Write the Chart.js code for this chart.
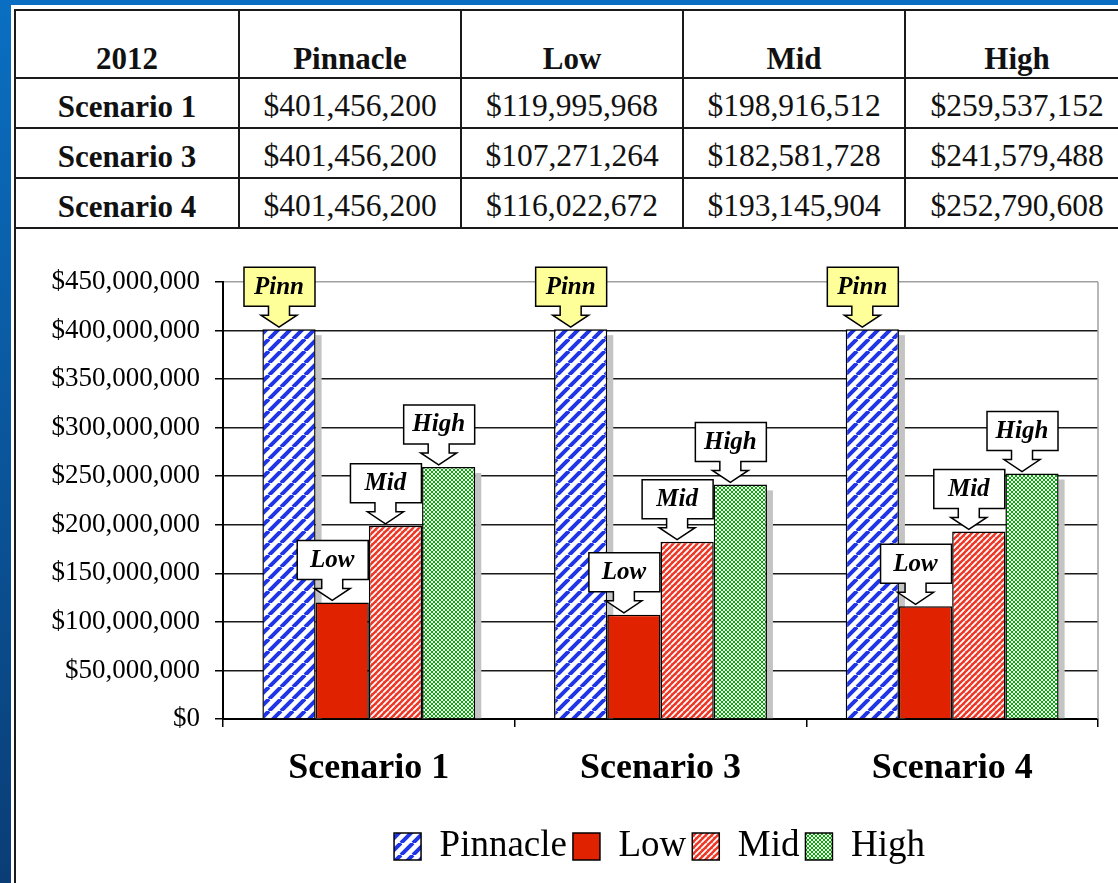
<!DOCTYPE html>
<html>
<head>
<meta charset="utf-8">
<script src="https://cdn.jsdelivr.net/npm/chart.js@4.4.0/dist/chart.umd.min.js"></script>
<style>
  body { margin: 0; width: 1118px; height: 883px; overflow: hidden; position: relative;
         background: linear-gradient(#0a6fc2, #0a3d76); font-family: 'Liberation Serif', 'Times New Roman', serif; }
  #panel { position: absolute; left: 11px; top: 5px; right: 0; bottom: 0; background: #fff; }
  #tbl { position: absolute; left: 14px; top: 9px; border-collapse: collapse; table-layout: fixed; width: 1114px; }
  #tbl td { border: 2px solid #1a1a1a; text-align: center; font-size: 31.5px; color: #111; padding: 0; line-height: 1; }
  #tbl tr.head td { height: 63px; vertical-align: bottom; padding-bottom: 3px; font-weight: bold; font-size: 31px; }
  #tbl tr.row td { height: 42px; padding-top: 6px; }
  #tbl tr.row td:first-child { font-weight: bold; font-size: 31px; }
  #box { position: absolute; left: 14px; top: 229px; width: 1200px; height: 700px; border-left: 2px solid #1a1a1a; }
  #wrap { position: absolute; left: 17px; top: 231px; width: 1101px; height: 652px; }
</style>
</head>
<body>
<div id="panel"></div>
<table id="tbl">
  <colgroup><col style="width:224px"><col style="width:222px"><col style="width:222px"><col style="width:222px"><col style="width:224px"></colgroup>
  <tbody id="tbody"></tbody>
</table>
<div id="box"></div>
<div id="wrap"><canvas id="chart"></canvas></div>
<script>
const year = '2012';
const categories = ['Scenario 1', 'Scenario 3', 'Scenario 4'];
const seriesNames = ['Pinnacle', 'Low', 'Mid', 'High'];
const calloutText = ['Pinn', 'Low', 'Mid', 'High'];
const pinnacle = [401456200, 401456200, 401456200];
const low = [119995968, 107271264, 116022672];
const mid = [198916512, 182581728, 193145904];
const high = [259537152, 241579488, 252790608];
const yMax = 450000000;
const yStep = 50000000;

const money = v => '$' + v.toLocaleString('en-US');
const series = [pinnacle, low, mid, high];

// table above the chart
const tbody = document.getElementById('tbody');
let html = '<tr class="head"><td>' + year + '</td>' + seriesNames.map(s => '<td>' + s + '</td>').join('') + '</tr>';
categories.forEach((c, i) => {
  html += '<tr class="row"><td>' + c + '</td>' + series.map(s => '<td>' + money(s[i]) + '</td>').join('') + '</tr>';
});
tbody.innerHTML = html;

const canvas = document.getElementById('chart');
const ctx = canvas.getContext('2d');

function stripes(bg, fg, size, width) {
  const c = document.createElement('canvas');
  c.width = c.height = size;
  const g = c.getContext('2d');
  g.fillStyle = bg; g.fillRect(0, 0, size, size);
  g.strokeStyle = fg; g.lineWidth = width;
  g.beginPath();
  for (const o of [-size, 0, size]) { g.moveTo(o, size); g.lineTo(o + size, 0); }
  g.stroke();
  return ctx.createPattern(c, 'repeat');
}
function checker(a, b, cell) {
  const c = document.createElement('canvas');
  c.width = c.height = cell * 2;
  const g = c.getContext('2d');
  g.fillStyle = a; g.fillRect(0, 0, cell * 2, cell * 2);
  g.fillStyle = b; g.fillRect(0, 0, cell, cell); g.fillRect(cell, cell, cell, cell);
  return ctx.createPattern(c, 'repeat');
}

const fills = [
  stripes('#ffffff', '#1f35e6', 12, 4),
  '#e02200',
  stripes('#ef3524', '#ffffff', 6, 1.8),
  checker('#00b000', '#ffffff', 2)
];

const shadows = {
  id: 'shadows',
  beforeDatasetsDraw(chart) {
    const c = chart.ctx;
    c.save();
    c.fillStyle = '#c4c4c4';
    chart.data.datasets.forEach((d, i) => {
      chart.getDatasetMeta(i).data.forEach(el => {
        const p = el.getProps(['x', 'y', 'base', 'width'], true);
        c.fillRect(p.x + p.width / 2, p.y + 6, 6, p.base - p.y - 6);
      });
    });
    c.restore();
  }
};

const callouts = {
  id: 'callouts',
  afterDatasetsDraw(chart) {
    const c = chart.ctx;
    c.save();
    c.font = 'italic bold 25px "Liberation Serif"';
    c.textAlign = 'center';
    c.textBaseline = 'middle';
    c.lineWidth = 1.5;
    c.strokeStyle = '#000';
    chart.data.datasets.forEach((d, i) => {
      chart.getDatasetMeta(i).data.forEach(el => {
        const p = el.getProps(['x', 'y'], true);
        const tx = p.x - 10, ty = p.y - 2;
        c.beginPath();
        c.moveTo(tx, ty);
        c.lineTo(tx + 18, ty - 12);
        c.lineTo(tx + 10.5, ty - 12);
        c.lineTo(tx + 10.5, ty - 21);
        c.lineTo(tx + 36, ty - 21);
        c.lineTo(tx + 36, ty - 60);
        c.lineTo(tx - 35, ty - 60);
        c.lineTo(tx - 35, ty - 21);
        c.lineTo(tx - 10.5, ty - 21);
        c.lineTo(tx - 10.5, ty - 12);
        c.lineTo(tx - 18, ty - 12);
        c.closePath();
        c.fillStyle = i === 0 ? '#ffff99' : '#ffffff';
        c.fill();
        c.stroke();
        c.fillStyle = '#000';
        c.fillText(calloutText[i], tx, ty - 40);
      });
    });
    c.restore();
  }
};

const frame = {
  id: 'frame',
  beforeDatasetsDraw(chart) {
    const a = chart.chartArea, c = chart.ctx;
    c.save();
    c.strokeStyle = '#a0a0a0';
    c.lineWidth = 1.5;
    c.beginPath();
    c.moveTo(a.right, a.top);
    c.lineTo(a.right, a.bottom);
    c.stroke();
    c.restore();
  }
};

// the legend in the original sits right of centre
const legendShift = {
  id: 'legendShift',
  afterLayout(chart) {
    chart.legend.left += 102;
    chart.legend.right += 102;
  }
};

new Chart(canvas, {
  type: 'bar',
  data: {
    labels: categories,
    datasets: series.map((s, i) => ({
      label: seriesNames[i],
      data: s,
      backgroundColor: fills[i],
      borderColor: '#000',
      borderWidth: 1.5,
      categoryPercentage: 0.73,
      barPercentage: 1
    }))
  },
  options: {
    responsive: true,
    maintainAspectRatio: false,
    animation: false,
    layout: { padding: { top: 51, right: 20, left: 0, bottom: 8 } },
    plugins: {
      tooltip: { enabled: false },
      legend: {
        position: 'bottom',
        labels: {
          color: '#000',
          font: { family: 'Liberation Serif', size: 37 },
          boxWidth: 27,
          boxHeight: 27,
          padding: 6
        }
      }
    },
    scales: {
      x: {
        grid: { display: true, drawOnChartArea: false, color: '#000', tickLength: 8, lineWidth: 1.5 },
        border: { color: '#000', width: 2 },
        ticks: { color: '#000', font: { family: 'Liberation Serif', size: 36, weight: 'bold' }, padding: 20 },
        afterFit(scale) { scale.height = 103; }
      },
      y: {
        min: 0,
        max: yMax,
        ticks: {
          stepSize: yStep,
          color: '#000',
          padding: 15,
          font: { family: 'Liberation Serif', size: 27 },
          callback: v => money(v)
        },
        grid: {
          color: c => (c.tick && c.tick.value === yMax ? '#a0a0a0' : '#1a1a1a'),
          tickColor: '#000',
          tickLength: 8,
          lineWidth: 1.5
        },
        border: { color: '#000', width: 2 },
        afterFit(scale) { scale.width = 206; }
      }
    }
  },
  plugins: [shadows, frame, callouts, legendShift]
});
</script>
</body>
</html>
